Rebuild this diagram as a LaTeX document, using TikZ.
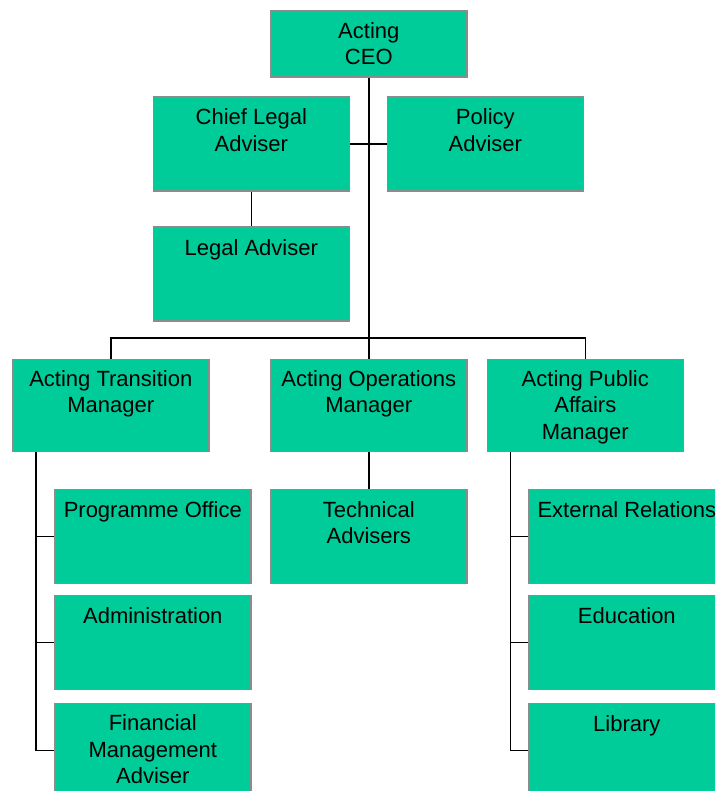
\documentclass[tikz,border=0pt]{standalone}
\usepackage{fontspec}
\setmainfont{Liberation Sans}
\usetikzlibrary{positioning}

\definecolor{boxgreen}{RGB}{0,204,153}
\definecolor{boxgray}{RGB}{140,140,140}

\begin{document}
\begin{tikzpicture}[x=1pt, y=-1pt]

    \pgfmathsetmacro{\boxw}{196}

    % Box and text looks, text sits at the top of each box
    \tikzset{
        orgbox/.style={draw=boxgray, fill=boxgreen, line width=1.6pt,
            anchor=north west, inner sep=0pt,
            minimum width=\boxw pt, minimum height=94pt},
        headbox/.style={orgbox, minimum height=92pt},
        orgtext/.style={anchor=north, inner sep=0pt, align=center,
            font=\fontsize{22}{26.5}\selectfont},
        link/.style={line width=1.5pt, black}
    }

    \useasboundingbox (0, 0) rectangle (715, 791);
    \clip (0, 0) rectangle (715, 791);

    % Top of the chart
    \begin{scope}
        \node[orgbox, minimum height=66pt] (ceo) at (270, 10) {};
        \node[orgbox] (chieflegal) at (152.5, 96) {};
        \node[orgbox] (policy) at (386.5, 96) {};
        \node[orgbox] (legal) at (152.5, 226) {};

        \node[orgtext, below=12pt of ceo.north] (ceotxt) {Acting\\CEO};
        \node[orgtext, below=12.5pt of chieflegal.north] (chieflegaltxt) {Chief Legal\\Adviser};
        \node[orgtext, below=12.5pt of policy.north] (policytxt) {Policy\\Adviser};
        \node[orgtext, below=13.5pt of legal.north] (legaltxt) {Legal Adviser};
    \end{scope}

    % The three managers
    \begin{scope}
        \node[headbox] (transition) at (12, 358.5) {};
        \node[headbox] (operations) at (270, 358.5) {};
        \node[headbox] (publicaffairs) at (486.5, 358.5) {};

        \node[orgtext, below=11.5pt of transition.north] (transitiontxt) {Acting Transition\\Manager};
        \node[orgtext, below=11.5pt of operations.north] (operationstxt) {Acting Operations\\Manager};
        \node[orgtext, below=11.5pt of publicaffairs.north] (publicaffairstxt) {Acting Public\\Affairs\\Manager};
    \end{scope}

    % Teams under the managers
    \begin{scope}
        \node[orgbox] (programme) at (54, 488.5) {};
        \node[orgbox] (admin) at (54, 594.5) {};
        \node[orgbox] (finance) at (54, 702.5) {};
        \node[orgbox] (technical) at (270, 488.5) {};
        \node[orgbox] (external) at (528, 488.5) {};
        \node[orgbox] (education) at (528, 594.5) {};
        \node[orgbox] (library) at (528, 702.5) {};

        \node[orgtext, below=12.5pt of programme.north] (programmetxt) {Programme Office};
        \node[orgtext, below=12.5pt of admin.north] (admintxt) {Administration};
        \node[orgtext, below=12pt of finance.north] (financetxt) {Financial\\Management\\Adviser};
        \node[orgtext, below=12.5pt of technical.north] (technicaltxt) {Technical\\Advisers};
        \node[orgtext, below=12.5pt of external.north] (externaltxt) {External Relations};
        \node[orgtext, below=12.5pt of education.north] (educationtxt) {Education};
        \node[orgtext, below=12.5pt of library.north] (librarytxt) {Library};
    \end{scope}

    % Connectors
    \begin{scope}[link]
        \coordinate (bus) at (368, 338);
        \draw (ceo.south) -- (operations.north);
        \draw (chieflegal.east) -- (policy.west);
        \draw (chieflegal.south) -- (legal.north);
        \draw (transition.north) |- (bus) -| (publicaffairs.north);
        \draw (operations.south) -- (technical.north);

        % spines hang from the lower left of the outer managers
        \path (transition.south west) ++(24, 0) coordinate (tspine);
        \path (publicaffairs.south west) ++(24, 0) coordinate (pspine);
        \draw (tspine) |- (finance.west);
        \draw (pspine) |- (library.west);
        \foreach \n in {programme, admin}
            \draw (tspine |- \n.west) -- (\n.west);
        \foreach \n in {external, education}
            \draw (pspine |- \n.west) -- (\n.west);
    \end{scope}

\end{tikzpicture}
\end{document}
